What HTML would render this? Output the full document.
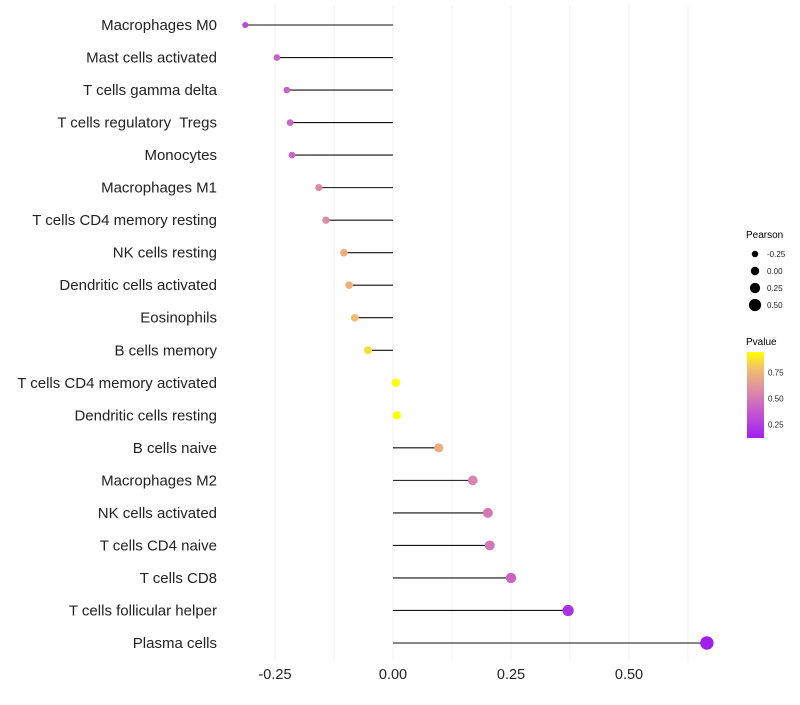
<!DOCTYPE html>
<html><head><meta charset="utf-8"><style>
body{margin:0;background:#fff;font-family:"Liberation Sans",sans-serif}
text{white-space:pre}
</style></head><body>
<svg id="chart" width="800" height="700" xmlns="http://www.w3.org/2000/svg" font-family="Liberation Sans, sans-serif">
<g id="grid"></g>
<g id="marks"></g>
<g id="ylabels"></g>
<g id="xlabels"></g>
<g id="legend">
<defs><linearGradient id="pg" x1="0" y1="1" x2="0" y2="0">
<stop offset="0" stop-color="#a020f0"/><stop offset="0.3" stop-color="#c457d0"/><stop offset="0.55" stop-color="#dc8aa8"/><stop offset="0.8" stop-color="#f2bd70"/><stop offset="1" stop-color="#ffff00"/></linearGradient></defs>
<text x="746" y="238" font-size="10">Pearson</text>
<text x="746" y="345" font-size="10">Pvalue</text>
<rect x="747" y="352" width="17" height="86" fill="url(#pg)"/>
</g>
</svg>
<script>
const categories=["Macrophages M0","Mast cells activated","T cells gamma delta","T cells regulatory  Tregs","Monocytes","Macrophages M1","T cells CD4 memory resting","NK cells resting","Dendritic cells activated","Eosinophils","B cells memory","T cells CD4 memory activated","Dendritic cells resting","B cells naive","Macrophages M2","NK cells activated","T cells CD4 naive","T cells CD8","T cells follicular helper","Plasma cells"];
const pearson=[-0.313,-0.246,-0.225,-0.218,-0.214,-0.157,-0.142,-0.104,-0.093,-0.081,-0.053,0.006,0.008,0.097,0.169,0.201,0.205,0.25,0.371,0.665];
const pvalue=[0.3,0.4,0.42,0.42,0.42,0.58,0.58,0.72,0.74,0.78,0.86,0.95,0.95,0.72,0.55,0.5,0.5,0.42,0.2,0.12];
const xTicks=[-0.25,0,0.25,0.5];
const xTickLabels=["-0.25","0.00","0.25","0.50"];
const pearsonLegend=[-0.25,0,0.25,0.5];
const pvalueLegend=[0.25,0.5,0.75];
const NS="http://www.w3.org/2000/svg";
const pMin=0.12,pMax=0.95;
const x=v=>393+v*472;
const y=i=>25+i*(618/(categories.length-1));
const r=v=>4.2+3.8*v;
const stops=[[0,[160,32,240]],[0.3,[196,87,208]],[0.55,[220,138,168]],[0.8,[242,189,112]],[1,[255,255,0]]];
function col(p){p=Math.min(1,Math.max(0,(p-pMin)/(pMax-pMin)));for(let k=1;k<stops.length;k++){if(p<=stops[k][0]){const a=stops[k-1],b=stops[k],t=(p-a[0])/(b[0]-a[0]);return "rgb("+a[1].map((c,j)=>Math.round(c+(b[1][j]-c)*t)).join(",")+")";}}return "rgb(255,255,0)";}
function mk(tag,attrs,parent){const e=document.createElementNS(NS,tag);for(const k in attrs)e.setAttribute(k,attrs[k]);document.getElementById(parent).appendChild(e);return e;}
for(let v=-0.375;v<=0.625;v+=0.125){const gx=x(v);if(gx<230||gx>700)continue;
const g=mk("line",{x1:gx,x2:gx,y1:5,y2:660,stroke:"#f0f0f0","stroke-width":1},"grid");

}
xTicks.forEach((t,i)=>{const tx=mk("text",{x:x(t),y:679,"font-size":14.5,"text-anchor":"middle",fill:"#222"},"xlabels");tx.textContent=xTickLabels[i];

});
categories.forEach((c,i)=>{
const tx=mk("text",{x:217,y:y(i)+5,"font-size":15,"text-anchor":"end",fill:"#222"},"ylabels");tx.textContent=c;


const ln=mk("line",{x1:x(0),x2:x(pearson[i]),y1:y(i),y2:y(i),stroke:"#111","stroke-width":1.1},"marks");


const ci=mk("circle",{cx:x(pearson[i]),cy:y(i),r:r(pearson[i]),fill:col(pvalue[i])},"marks");

});
pearsonLegend.forEach((v,i)=>{const cy=254+i*17;
const c=mk("circle",{cx:755,cy:cy,r:r(v),fill:"#000"},"legend");


const t=mk("text",{x:767,y:cy+3,"font-size":8,fill:"#222"},"legend");t.textContent=v.toFixed(2);

});
pvalueLegend.forEach(v=>{const ty=438-(v-pMin)/(pMax-pMin)*86;
const t=mk("text",{x:768,y:ty+3,"font-size":8,fill:"#222"},"legend");t.textContent=v.toFixed(2);

});
</script>
</body></html>
